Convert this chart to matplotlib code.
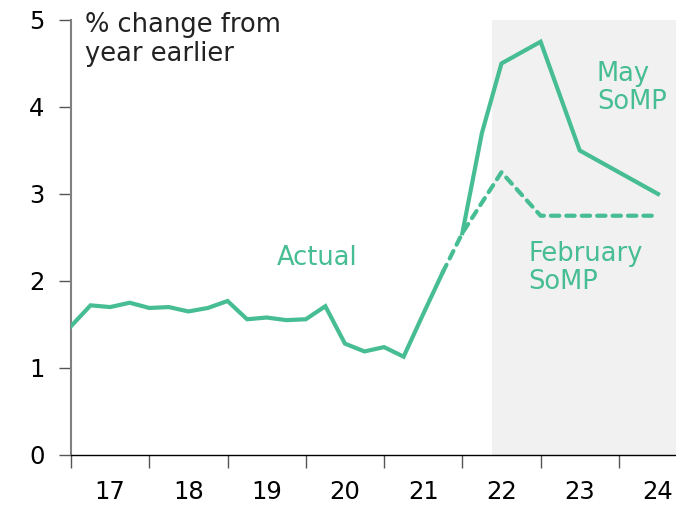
import matplotlib
matplotlib.use("Agg")
import matplotlib.pyplot as plt
import numpy as np

# Colores de la figura
verde = "#46bd92"
gris_fondo = "#f1f1f1"

# Trimestres reales (dic-16 a sep-21), posicion = fin del trimestre
actual_x = [2017.0, 2017.25, 2017.5, 2017.75, 2018.0, 2018.25, 2018.5, 2018.75,
            2019.0, 2019.25, 2019.5, 2019.75, 2020.0, 2020.25, 2020.5, 2020.75,
            2021.0, 2021.25, 2021.5, 2021.75]
actual_y = [1.48, 1.72, 1.70, 1.75, 1.69, 1.70, 1.65, 1.69,
            1.77, 1.56, 1.58, 1.55, 1.56, 1.71, 1.28, 1.19,
            1.24, 1.13, 1.62, 2.10]

# Previsiones SoMP de febrero (discontinua)
feb_x = [2021.75, 2022.0, 2022.5, 2023.0, 2023.5, 2024.0, 2024.5]
feb_y = [2.10, 2.55, 3.25, 2.75, 2.75, 2.75, 2.75]

# Previsiones SoMP de mayo (continua)
may_x = [2022.0, 2022.25, 2022.5, 2023.0, 2023.5, 2024.0, 2024.5]
may_y = [2.55, 3.70, 4.50, 4.75, 3.50, 3.25, 3.00]

years = [2017, 2018, 2019, 2020, 2021, 2022, 2023, 2024]
year_labels = ["17", "18", "19", "20", "21", "22", "23", "24"]

plt.rcParams["font.family"] = ["DejaVu Sans"]

fig = plt.figure(figsize=(6.76, 5.07), dpi=100)
ax = fig.add_axes([0.105, 0.1026, 0.895, 0.858])

# Zona sombreada de previsiones
ax.axvspan(2022.375, 2024.73, color=gris_fondo, lw=0, zorder=0)

ax.plot(actual_x, actual_y, color=verde, lw=3, solid_joinstyle="miter", zorder=3)
ax.plot(feb_x, feb_y, color=verde, lw=3, ls=(0, (2.0, 1.7)), dash_capstyle="round", zorder=3)
ax.plot(may_x, may_y, color=verde, lw=3, solid_joinstyle="miter", zorder=3)

ax.set_xlim(2017.0, 2024.73)
ax.set_ylim(0, 5)

# Ejes: izquierda gris, abajo negro
for s in ["top", "right"]:
    ax.spines[s].set_visible(False)
ax.spines["left"].set_color("#808080")
ax.spines["left"].set_linewidth(1.5)
ax.spines["bottom"].set_color("black")
ax.spines["bottom"].set_linewidth(1.0)

ax.set_yticks([0, 1, 2, 3, 4, 5])
ax.tick_params(axis="y", length=9, width=1, color="#555555", pad=10, labelsize=17.5)

# Marcas en los limites de año, etiquetas en el centro del año
ax.set_xticks(years, minor=True)
ax.set_xticks([y + 0.5 for y in years])
ax.set_xticklabels(year_labels)
ax.tick_params(axis="x", which="minor", length=9, width=1, color="#555555")
ax.tick_params(axis="x", which="major", length=0, pad=18, labelsize=17.5)

fs = 18.5
ax.text(2017.18, 5.09, "% change from\nyear earlier", fontsize=fs, va="top", ha="left",
        color="#222222", linespacing=1.12)
ax.text(2020.15, 2.26, "Actual", fontsize=fs, color=verde, ha="center", va="center")
ax.text(2023.72, 4.22, "May\nSoMP", fontsize=fs, color=verde, ha="left", va="center",
        linespacing=1.12)
ax.text(2022.84, 2.15, "February\nSoMP", fontsize=fs, color=verde, ha="left", va="center",
        linespacing=1.12)

fig.savefig("out.png", dpi=100)
